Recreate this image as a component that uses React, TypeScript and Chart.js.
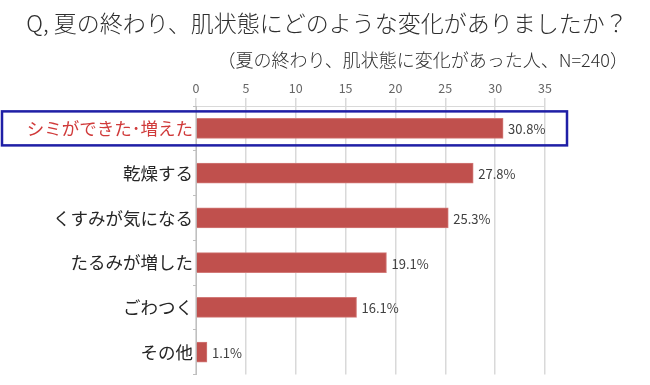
import React, { useEffect, useRef } from "react";
import { Chart, registerables } from "chart.js";

Chart.register(...registerables);

const TITLE = "Q, 夏の終わり、肌状態にどのような変化がありましたか？";
const SUBTITLE = "（夏の終わり、肌状態に変化があった人、N=240）";
const categories = ["シミができた･増えた", "乾燥する", "くすみが気になる", "たるみが増した", "ごわつく", "その他"];
const values = [30.8, 27.8, 25.3, 19.1, 16.1, 1.1];
const xTicks = [0, 5, 10, 15, 20, 25, 30, 35];

const FONT = "'Noto Sans CJK JP', 'Noto Sans', sans-serif";

const overlay = {
  id: "overlay",
  afterDraw(chart: any) {
    const ctx = chart.ctx;
    const xs = chart.scales.x;
    const ys = chart.scales.y;
    ctx.save();
    // title
    ctx.fillStyle = "#2e2e2e";
    ctx.font = `300 23px ${FONT}`;
    ctx.textAlign = "center";
    ctx.textBaseline = "middle";
    ctx.fillText(TITLE, chart.width / 2 + 2, 23);
    ctx.font = `300 18px ${FONT}`;
    ctx.textAlign = "right";
    ctx.fillText(SUBTITLE, chart.width - 22, 60);
    // data labels
    ctx.font = `13px ${FONT}`;
    ctx.textAlign = "left";
    ctx.fillStyle = "#404040";
    values.forEach((v, i) => {
      const x = xs.getPixelForValue(v);
      const y = ys.getPixelForValue(i);
      ctx.fillText(v.toFixed(1) + "%", x + 5, y + 1);
    });
    // highlight box around first category
    const yc = ys.getPixelForValue(0);
    ctx.strokeStyle = "#1f1fa6";
    ctx.lineWidth = 2.5;
    ctx.strokeRect(2, yc - 17, xs.getPixelForValue(35) + 22 - 2, 34);
    ctx.restore();
  },
};

export default function App() {
  const ref = useRef<HTMLCanvasElement>(null);
  useEffect(() => {
    const chart = new Chart(ref.current!, {
      type: "bar",
      data: {
        labels: categories,
        datasets: [
          {
            data: values,
            backgroundColor: "#c0504d",
            borderColor: "#d27a78",
            borderWidth: 1,
            barThickness: 20,
          },
        ],
      },
      options: {
        indexAxis: "y",
        responsive: false,
        animation: false,
        events: [],
        layout: { padding: { top: 79, right: 105, bottom: 10, left: 0 } },
        plugins: { legend: { display: false }, tooltip: { enabled: false }, title: { display: false } },
        scales: {
          x: {
            position: "top",
            min: 0,
            max: 35,
            afterBuildTicks: (s: any) => {
              s.ticks = xTicks.map((v) => ({ value: v }));
            },
            ticks: { font: { size: 12.5, family: FONT }, color: "#666666", padding: 2 },
            grid: { color: "#d9d9d9", lineWidth: 1.5, tickLength: 8 },
            border: { display: true, color: "#d9d9d9" },
          },
          y: {
            afterFit: (s: any) => {
              s.width = 196;
            },
            ticks: {
              font: { size: 17.5, family: FONT },
              color: (c: any) => (c.index === 0 ? "#d03a3a" : "#262626"),
              padding: 0,
            },
            grid: { drawOnChartArea: false, tickLength: 3, color: "#bfbfbf", offset: true },
            border: { display: true, color: "#bfbfbf" },
          },
        },
      },
      plugins: [overlay],
    });
    return () => chart.destroy();
  }, []);
  return (
    <div style={{ position: "absolute", left: 0, top: 0, width: 650, height: 385, background: "#fff" }}>
      <canvas ref={ref} width={650} height={385} />
    </div>
  );
}
